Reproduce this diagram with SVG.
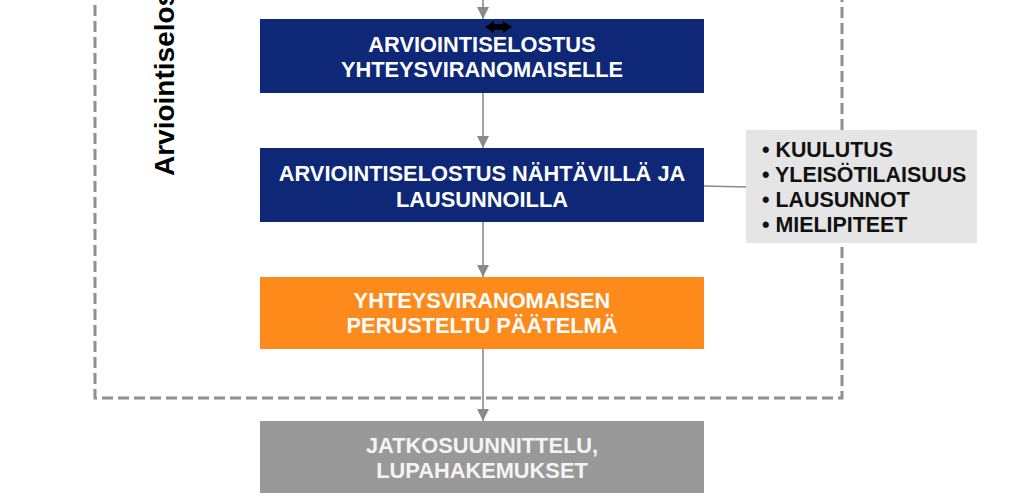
<svg xmlns="http://www.w3.org/2000/svg" width="1024" height="502" viewBox="0 0 1024 502">
<defs>
<style>
.box{stroke:none}
.t{font-family:"Liberation Sans",Arial,sans-serif;font-weight:bold;font-size:21.8px;fill:#ffffff;text-anchor:middle}
.s{font-family:"Liberation Sans",Arial,sans-serif;font-weight:bold;font-size:21.4px;fill:#111111}
.c{stroke:#8a8a8a;stroke-width:1.6;fill:none}
</style>
<marker id="ah" viewBox="0 0 12 12" refX="12" refY="6" markerWidth="12" markerHeight="12" markerUnits="userSpaceOnUse" orient="auto">
<path d="M0,0 L12,6 L0,12 Z" fill="#8a8a8a"/>
</marker>
</defs>
<rect width="1024" height="502" fill="#ffffff"/>
<g id="frame">
<rect x="95" y="-30" width="747" height="428" fill="none" stroke="#8f8f8f" stroke-width="3" stroke-dasharray="11 5"/>
<text transform="translate(174,176) rotate(-90)" x="0" y="0" style="font-family:'Liberation Sans',Arial,sans-serif;font-weight:bold;font-size:28px;fill:#000">Arviointiselos</text>
</g>
<g id="connectors">
<line class="c" x1="483" y1="0" x2="483" y2="19" marker-end="url(#ah)"/>
<line class="c" x1="483" y1="93" x2="483" y2="148" marker-end="url(#ah)"/>
<line class="c" x1="483" y1="222" x2="483" y2="277" marker-end="url(#ah)"/>
<line class="c" x1="483" y1="349" x2="483" y2="421" marker-end="url(#ah)"/>
<line class="c" x1="704" y1="186" x2="746" y2="187"/>
</g>
<g id="n1">
<rect class="box" x="260" y="19" width="444" height="74" fill="#0e2877"/>
<text class="t" x="482" y="52">ARVIOINTISELOSTUS</text>
<text class="t" x="482" y="77">YHTEYSVIRANOMAISELLE</text>
<path d="M485,27 L494,21 L494,24 L503,24 L503,21 L512,27 L503,33 L503,30 L494,30 L494,33 Z" fill="#000"/>
</g>
<g id="n2">
<rect class="box" x="260" y="148" width="444" height="74" fill="#0e2877"/>
<text class="t" x="482" y="181">ARVIOINTISELOSTUS NÄHTÄVILLÄ JA</text>
<text class="t" x="482" y="207">LAUSUNNOILLA</text>
</g>
<g id="n3">
<rect class="box" x="260" y="277" width="444" height="72" fill="#ff8a1c"/>
<text class="t" x="482" y="308">YHTEYSVIRANOMAISEN</text>
<text class="t" x="482" y="333">PERUSTELTU PÄÄTELMÄ</text>
</g>
<g id="n4">
<rect class="box" x="260" y="421" width="444" height="72" fill="#999999"/>
<text class="t" x="482" y="453" style="fill:#f4f4f4">JATKOSUUNNITTELU,</text>
<text class="t" x="482" y="478" style="fill:#f4f4f4">LUPAHAKEMUKSET</text>
</g>
<g id="side">
<rect x="746" y="130" width="231" height="113" fill="#e5e5e5"/>
<text class="s" x="762" y="157">• KUULUTUS</text>
<text class="s" x="762" y="182">• YLEISÖTILAISUUS</text>
<text class="s" x="762" y="207">• LAUSUNNOT</text>
<text class="s" x="762" y="232">• MIELIPITEET</text>
</g>
</svg>
